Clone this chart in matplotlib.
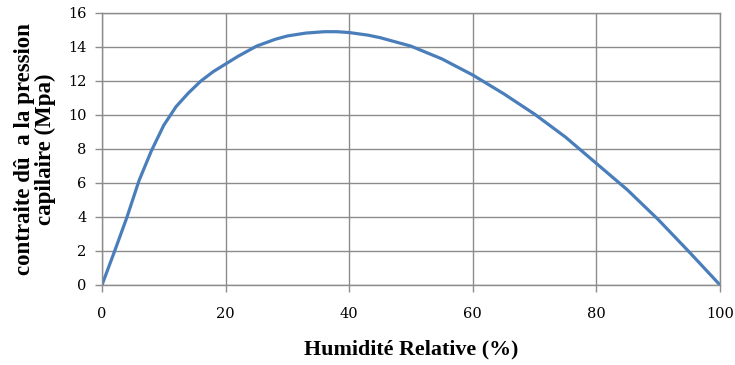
import matplotlib.pyplot as plt

# Valeurs
humidite = [0, 2, 4, 6, 8, 10, 12, 14, 16, 18, 20, 22, 25, 28, 30, 33, 36, 38,
            40, 43, 45, 50, 55, 60, 65, 70, 75, 80, 85, 90, 95, 100]
contrainte = [0, 1.95, 3.95, 6.15, 7.9, 9.4, 10.5, 11.3, 12.0, 12.55, 13.0, 13.45,
              14.05, 14.45, 14.65, 14.82, 14.9, 14.9, 14.85, 14.7, 14.55, 14.05,
              13.3, 12.35, 11.25, 10.05, 8.7, 7.15, 5.6, 3.85, 1.95, 0]

x_ticks = [0, 20, 40, 60, 80, 100]
y_ticks = [0, 2, 4, 6, 8, 10, 12, 14, 16]

fig = plt.figure(figsize=(7.35, 3.65), dpi=100)
ax = fig.add_axes([102 / 735, 1 - 285 / 365, 618 / 735, 272 / 365])

ax.plot(humidite, contrainte, color="#4a7ebb", linewidth=2.3, solid_capstyle="butt")

ax.set_xlim(0, 100)
ax.set_ylim(0, 16)
ax.set_xticks(x_ticks)
ax.set_yticks(y_ticks)
ax.grid(True, color="#8c8c8c", linewidth=1)
ax.set_axisbelow(True)
for s in ax.spines.values():
    s.set_color("#8c8c8c")
    s.set_linewidth(1)
ax.tick_params(axis="both", colors="#8c8c8c", length=5, width=1,
               labelcolor="black", labelsize=10.5)
for lab in ax.get_xticklabels() + ax.get_yticklabels():
    lab.set_family("DejaVu Serif")
ax.tick_params(axis="x", pad=11)
ax.tick_params(axis="y", pad=6)

ax.set_xlabel("Humidité Relative (%)", family="Liberation Serif",
              fontweight="bold", fontsize=15.8, labelpad=13)
ax.set_ylabel("contraite dû  a la pression\ncapilaire (Mpa)", family="Liberation Serif",
              fontweight="bold", fontsize=16.5, labelpad=9, linespacing=0.95)

fig.savefig("out.png", dpi=100)
